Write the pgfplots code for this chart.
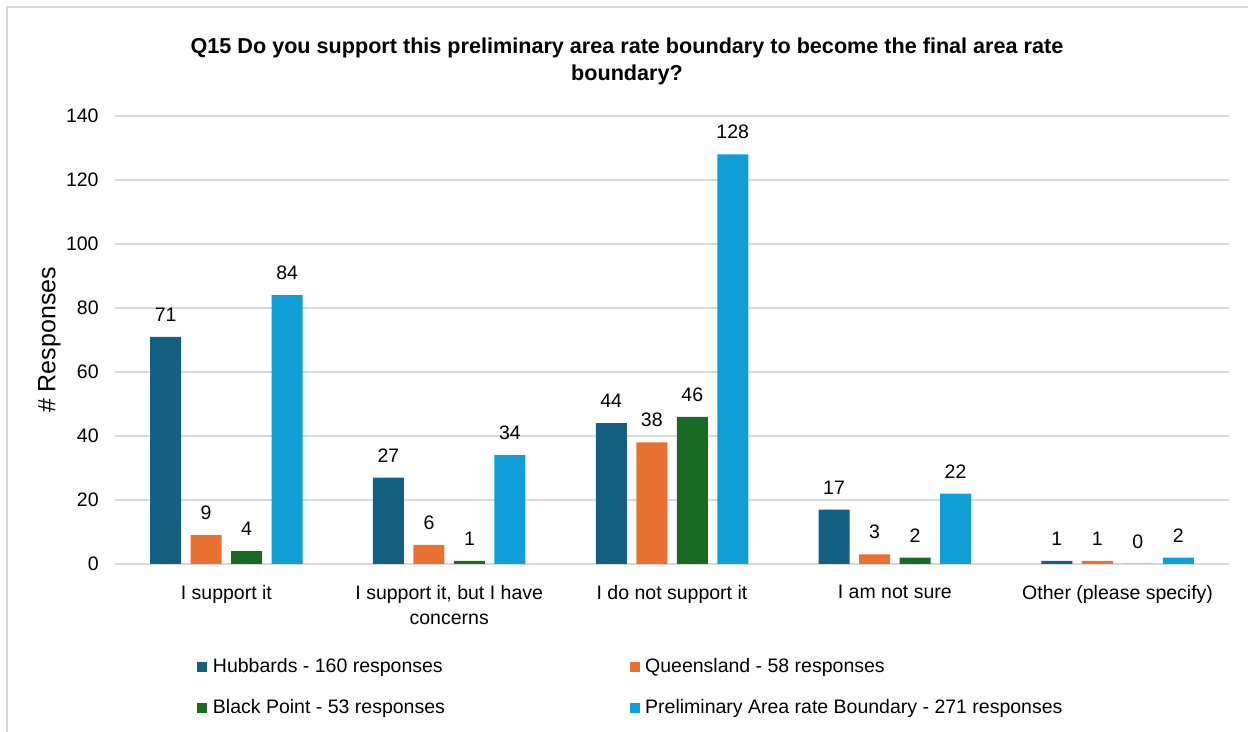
\documentclass[border=0pt]{standalone}
\usepackage{pgfplots}
\pgfplotsset{compat=1.18}
\usepackage{fontspec}
\setmainfont{Liberation Sans}
\definecolor{cA}{HTML}{156082}
\definecolor{cB}{HTML}{E97132}
\definecolor{cC}{HTML}{196B24}
\definecolor{cD}{HTML}{0F9ED5}
\definecolor{gridc}{HTML}{D9D9D9}
\newcommand\lf{\fontsize{9.75}{12.5}\selectfont}
\begin{document}
\begin{tikzpicture}
\begin{axis}[
  at={(0,0)}, anchor=south west,
  scale only axis, width=557pt, height=224pt,
  xmin=-0.5, xmax=4.5, ymin=0, ymax=140,
  ytick={0,20,...,140},
  xtick={0,1,2,3,4},
  xticklabels={I support it, {I support it, but I have\\concerns}, I do not support it, I am not sure, Other (please specify)},
  axis line style={draw=none},
  major tick length=0pt,
  ymajorgrids, grid style={gridc, line width=0.8pt},
  ybar=4.75pt, bar width=15.5pt,
  font=\lf,
  /pgf/number format/assume math mode=true,
  yticklabel style={anchor=east, inner sep=0pt, xshift=-8pt},
  xticklabel style={anchor=north, inner sep=0pt, yshift=-10.5pt, align=center},
  ylabel={\# Responses},
  ylabel style={at={(axis description cs:-0.059,0.5)}, anchor=center, font=\fontsize{12.5}{14}\selectfont},
  title={Q15 Do you support this preliminary area rate boundary to become the final area rate\\boundary?},
  title style={at={(axis description cs:0.4596,1)}, anchor=north, yshift=33.5pt, inner sep=0pt, align=center, font=\fontsize{10.8}{13.5}\selectfont\bfseries},
  nodes near coords,
  every node near coord/.append style={font=\lf, anchor=south, inner sep=0pt, yshift=7.5pt},
  legend columns=2,
  legend cell align=left,
  legend style={draw=none, fill=none, at={(axis description cs:0.0736,-0.2004)}, anchor=north west, inner sep=0pt, row sep=7.5pt, column sep=0pt, nodes={inner xsep=2.8pt, inner ysep=2pt, text height=7pt, text depth=2pt, font=\lf}},
  legend image code/.code={\fill[#1] (0pt,-2.5pt) rectangle (5pt,2.5pt);},
]
\addplot[fill=cA, draw=none] coordinates {(0,71) (1,27) (2,44) (3,17) (4,1)};
\addlegendentry{\makebox[205.5pt][l]{Hubbards - 160 responses}}
\addplot[fill=cB, draw=none] coordinates {(0,9) (1,6) (2,38) (3,3) (4,1)};
\addlegendentry{Queensland - 58 responses}
\addplot[fill=cC, draw=none] coordinates {(0,4) (1,1) (2,46) (3,2) (4,0)};
\addlegendentry{\makebox[205.5pt][l]{Black Point - 53 responses}}
\addplot[fill=cD, draw=none] coordinates {(0,84) (1,34) (2,128) (3,22) (4,2)};
\addlegendentry{Preliminary Area rate Boundary - 271 responses}
\end{axis}
\draw[gridc, line width=0.75pt] (-54pt,-84pt) -- (-54pt,278.5pt) -- (566.5pt,278.5pt);
\pgfresetboundingbox
\path[use as bounding box] (-57.5pt,-84pt) rectangle (566.5pt,282pt);
\end{tikzpicture}
\end{document}
